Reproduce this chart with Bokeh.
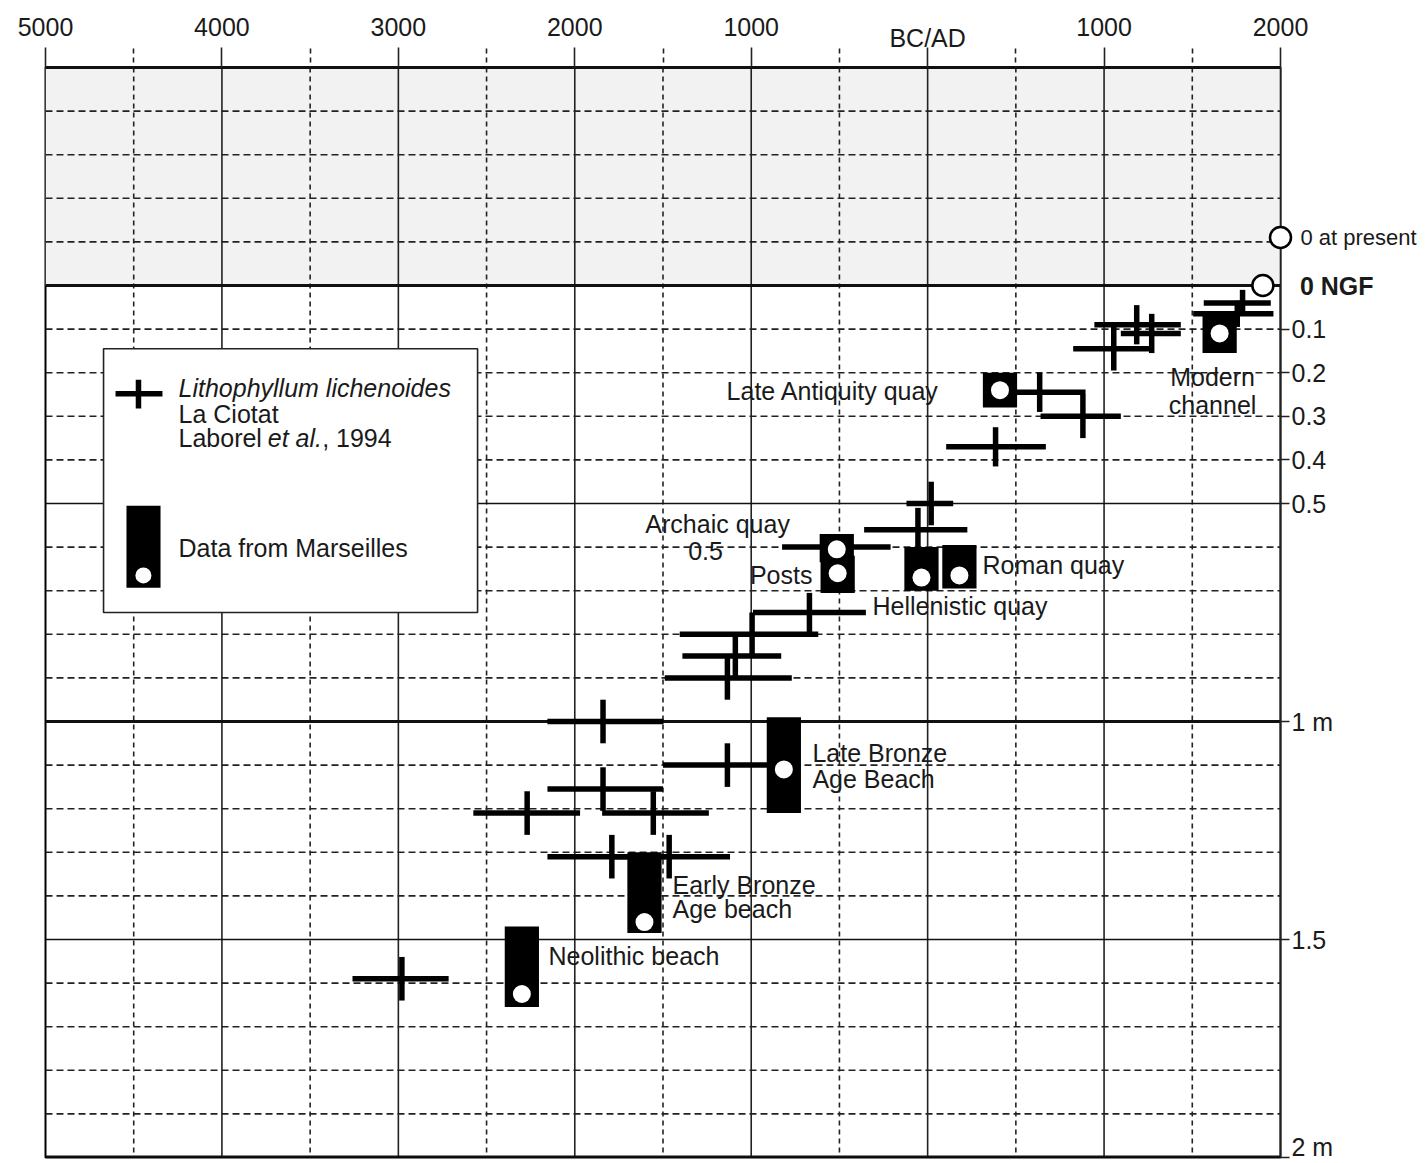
from bokeh.plotting import figure
from bokeh.models import Range1d, LinearAxis, FixedTicker, Label
from bokeh.embed import file_html
from bokeh.resources import INLINE
from bokeh.core.properties import value

# ---------------- data (years: negative = BC; depth in m below 0 NGF) ----------------
# Lithophyllum lichenoides, La Ciotat (Laborel et al., 1994): age range + depth
cross_year  = [-1840, -1135, -1840, -2270, -1555, -1790, -1465, -2980, -670, -995, -1090, -1135,
               20, -55, -515, 385, 635, 880, 1055, 1185, 1270, 1785, 1755]
cross_depth = [1.00, 1.10, 1.155, 1.21, 1.21, 1.31, 1.31, 1.59, 0.75, 0.80, 0.85, 0.90,
               0.50, 0.56, 0.60, 0.37, 0.245, 0.30, 0.145, 0.09, 0.11, 0.04, 0.065]
cross_age_lo = [-2155, -1500, -2155, -2575, -1845, -2155, -1800, -3260, -990, -1405, -1390, -1490,
                -120, -360, -825, 105, 380, 640, 825, 945, 1095, 1565, 1505]
cross_age_hi = [-1497, -910, -1500, -1970, -1240, -1485, -1120, -2715, -350, -620, -830, -770,
                145, 225, -210, 670, 895, 1095, 1280, 1435, 1435, 1945, 1960]
cross_depth_err = [0.05, 0.05, 0.05, 0.05, 0.05, 0.05, 0.05, 0.05, 0.045, 0.05, 0.05, 0.05,
                   0.05, 0.05, 0.03, 0.045, 0.045, 0.05, 0.05, 0.045, 0.045, 0.03, 0.03]

# Data from Marseilles: site, date, depth range and point
site_names  = ["Neolithic beach", "Early Bronze Age beach", "Late Bronze Age Beach", "Archaic quay",
               "Posts", "Roman quay", "Roman quay", "Late Antiquity quay", "Modern channel"]
site_year   = [-2300, -1605, -815, -515, -510, -35, 180, 410, 1655]
site_top    = [1.47, 1.30, 0.99, 0.57, 0.62, 0.60, 0.595, 0.20, 0.065]
site_bottom = [1.655, 1.485, 1.21, 0.635, 0.705, 0.70, 0.695, 0.28, 0.155]
site_point  = [1.625, 1.46, 1.11, 0.605, 0.66, 0.67, 0.665, 0.24, 0.11]

# reference levels (open circles)
ref_year  = [2000, 1900]
ref_depth = [-0.11, 0.0]
ref_labels = ["0 at present", "0 NGF"]

# axes ticks
year_ticks  = [-5000, -4000, -3000, -2000, -1000, 0, 1000, 2000]
year_labels = ["5000", "4000", "3000", "2000", "1000", "", "1000", "2000"]
era_label   = "BC/AD"
year_minor  = [-4500, -3500, -2500, -1500, -500, 500, 1500]
depth_ticks  = [0.1, 0.2, 0.3, 0.4, 0.5, 1.0, 1.5, 2.0]
depth_labels = ["0.1", "0.2", "0.3", "0.4", "0.5", "1 m", "1.5", "2 m"]
depth_thick  = [0.0, 1.0]
depth_thin   = [0.5, 1.5]
depth_dashed = [-0.4, -0.3, -0.2, -0.1, 0.1, 0.2, 0.3, 0.4, 0.6, 0.7, 0.8, 0.9,
                1.1, 1.2, 1.3, 1.4, 1.6, 1.7, 1.8, 1.9]

# annotation texts
ann_texts = ["Late  Antiquity quay", "Modern", "channel", "Archaic quay", "0.5", "Posts",
             "Roman quay", "Hellenistic quay", "Late Bronze", "Age Beach", "Early Bronze",
             "Age beach", "Neolithic beach"]

# ---------------- layout / style ----------------
FONT = "Liberation Sans"
FS = "25px"
TXT = "#1a1a1a"
X0, X1 = -5000, 2000
Y_TOP, Y_BOT = -0.5, 2.0
BOX_HALF = 97  # half width of the Marseilles symbols (years)
LW = 5.5

p = figure(width=1427, height=1160,
           x_range=Range1d(X0, X1), y_range=Range1d(Y_BOT, Y_TOP),
           x_axis_type=None, y_axis_type=None,
           toolbar_location=None, output_backend="svg",
           min_border_left=45, min_border_right=147, min_border_top=67, min_border_bottom=3)
p.outline_line_color = "black"
p.outline_line_width = 2
p.background_fill_color = "white"
p.border_fill_color = "white"

# shaded zone above 0 NGF
p.quad(left=[X0], right=[X1], top=[Y_TOP], bottom=[0.0], fill_color="#f2f2f2", line_color=None)

# grid
inner_major = [t for t in year_ticks if X0 < t < X1]
p.segment(x0=inner_major, x1=inner_major, y0=[Y_TOP] * len(inner_major), y1=[Y_BOT] * len(inner_major),
          line_color="#222222", line_width=1.6)
p.segment(x0=year_minor, x1=year_minor, y0=[Y_TOP] * len(year_minor), y1=[Y_BOT] * len(year_minor),
          line_color="#222222", line_width=1.6, line_dash="5 4")
p.segment(x0=[X0] * len(depth_dashed), x1=[X1] * len(depth_dashed), y0=depth_dashed, y1=depth_dashed,
          line_color="#222222", line_width=1.6, line_dash="7 4")
p.segment(x0=[X0] * 2, x1=[X1] * 2, y0=depth_thin, y1=depth_thin, line_color="#111111", line_width=1.6)
p.segment(x0=[X0] * 2, x1=[X1] * 2, y0=depth_thick, y1=depth_thick, line_color="#111111", line_width=2.8)
p.segment(x0=[X0], x1=[X1], y0=[Y_BOT], y1=[Y_BOT], line_color="#111111", line_width=4)

# legend box
LG_L, LG_R, LG_T, LG_B = -4671, -2551, 0.145, 0.75
p.quad(left=[LG_L], right=[LG_R], top=[LG_T], bottom=[LG_B], fill_color="white",
       line_color="#222222", line_width=1.6)
p.segment(x0=[-4603], x1=[-4337], y0=[0.248], y1=[0.248], line_color="black", line_width=LW)
p.segment(x0=[-4473], x1=[-4473], y0=[0.216], y1=[0.282], line_color="black", line_width=LW)
p.quad(left=[-4541], right=[-4348], top=[0.505], bottom=[0.693], fill_color="black", line_color=None)
p.scatter(x=[-4445], y=[0.665], size=16, fill_color="white", line_color=None)

LEG_X = -4246
for txt, y, style in [("Lithophyllum lichenoides", 0.236, "italic"), ("La Ciotat", 0.294, "normal"),
                      ("Laborel", 0.349, "normal"), ("Data from Marseilles", 0.603, "normal")]:
    p.add_layout(Label(x=LEG_X, y=y, text=txt, text_font=FONT, text_font_size=FS, text_font_style=style,
                       text_color=TXT, text_align="left", text_baseline="middle"))
p.add_layout(Label(x=-3740, y=0.349, text="et al.", text_font=FONT, text_font_size=FS,
                   text_font_style="italic", text_color=TXT, text_align="left", text_baseline="middle"))
p.add_layout(Label(x=-3432, y=0.349, text=", 1994", text_font=FONT, text_font_size=FS,
                   text_color=TXT, text_align="left", text_baseline="middle"))

# Lithophyllum crosses
p.segment(x0=cross_age_lo, x1=cross_age_hi, y0=cross_depth, y1=cross_depth, line_color="black", line_width=LW)
p.segment(x0=cross_year, x1=cross_year,
          y0=[d - e for d, e in zip(cross_depth, cross_depth_err)],
          y1=[d + e for d, e in zip(cross_depth, cross_depth_err)],
          line_color="black", line_width=LW)

# Marseilles data
p.quad(left=[y - BOX_HALF for y in site_year], right=[y + BOX_HALF for y in site_year],
       top=site_top, bottom=site_bottom, fill_color="black", line_color=None)
p.scatter(x=site_year, y=site_point, size=18, fill_color="white", line_color=None)

# reference circles (drawn unclipped, one sits on the frame edge)
p.scatter(x=ref_year, y=ref_depth, size=21, fill_color="white", line_color="black", line_width=2.5,
          level="overlay")

# annotations
ann_pos = [(105, 0.241, "right"), (1615, 0.209, "center"), (1615, 0.273, "center"),
           (-1600, 0.546, "left"), (-1259, 0.608, "center"), (-653, 0.663, "right"),
           (311, 0.642, "left"), (-313, 0.736, "left"), (-653, 1.073, "left"), (-653, 1.131, "left"),
           (-1446, 1.374, "left"), (-1446, 1.431, "left"), (-2149, 1.537, "left")]
for txt, (x, y, al) in zip(ann_texts, ann_pos):
    p.add_layout(Label(x=x, y=y, text=txt, text_font=FONT, text_font_size=FS, text_color=TXT,
                       text_align=al, text_baseline="middle"))

# texts outside the frame: glyphs at overlay level so they are not clipped
p.text(x=[2113], y=[ref_depth[0]], text=[ref_labels[0]], text_font=value(FONT), text_font_size=value("22px"),
       text_color=TXT, text_align="left", text_baseline="middle", level="overlay")
p.text(x=[2110], y=[ref_depth[1]], text=[ref_labels[1]], text_font=value(FONT), text_font_size=value(FS),
       text_font_style=value("bold"), text_color=TXT, text_align="left", text_baseline="middle",
       level="overlay")
p.text(x=[0], y=[-0.567], text=[era_label], text_font=value(FONT), text_font_size=value(FS),
       text_color=TXT, text_align="center", text_baseline="middle", level="overlay")

# top axis
ax_top = LinearAxis(ticker=FixedTicker(ticks=year_ticks, minor_ticks=year_minor),
                    major_label_overrides=dict(zip(year_ticks, year_labels)))
ax_top.axis_line_color = "#111111"
ax_top.axis_line_width = 2.8
ax_top.major_tick_in = 0
ax_top.major_tick_out = 20
ax_top.major_tick_line_width = 1.6
ax_top.major_tick_line_color = "#222222"
ax_top.minor_tick_in = 0
ax_top.minor_tick_out = 19
ax_top.minor_tick_line_width = 1.6
ax_top.minor_tick_line_dash = "5 4"
ax_top.minor_tick_line_color = "#222222"
ax_top.major_label_standoff = 12
ax_top.major_label_text_font = FONT
ax_top.major_label_text_font_size = FS
ax_top.major_label_text_color = TXT
p.add_layout(ax_top, "above")

# right axis
ax_r = LinearAxis(ticker=FixedTicker(ticks=depth_ticks),
                  major_label_overrides=dict(zip(depth_ticks, depth_labels)))
ax_r.axis_line_color = "#222222"
ax_r.axis_line_width = 1.6
ax_r.major_tick_in = 0
ax_r.major_tick_out = 9
ax_r.major_tick_line_width = 1.6
ax_r.major_tick_line_color = "#222222"
ax_r.minor_tick_line_color = None
ax_r.major_label_standoff = 2
ax_r.major_label_text_font = FONT
ax_r.major_label_text_font_size = FS
ax_r.major_label_text_color = TXT
p.add_layout(ax_r, "right")

open("out.html", "w").write(file_html(p, INLINE))
